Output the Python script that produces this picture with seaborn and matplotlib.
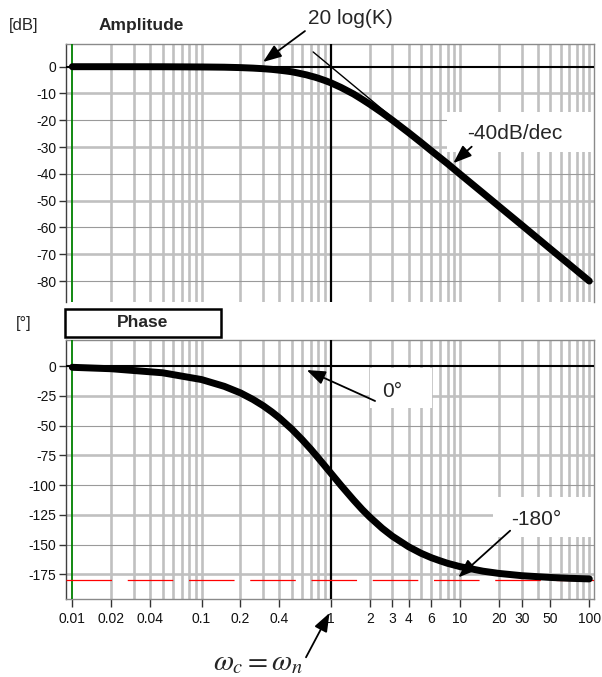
import numpy as np
import pandas as pd
import matplotlib
matplotlib.use("Agg")
import matplotlib.pyplot as plt
import seaborn as sns
from matplotlib.patches import Rectangle

# ---------------- data ----------------
amp_freq = [0.01, 0.02, 0.05, 0.1, 0.15, 0.2, 0.25, 0.3, 0.35, 0.4, 0.45, 0.5, 0.55,
            0.6, 0.65, 0.7, 0.75, 0.8, 0.9, 1.0, 1.2, 1.5, 1.75, 2.0, 2.5, 3.0, 4.0,
            5.0, 6.0, 8.0, 10.0, 15.0, 20.0, 30.0, 50.0, 70.0, 100.0]
amp_db = [0.0, 0.0, -0.02, -0.1, -0.19, -0.34, -0.53, -0.75, -1.0, -1.3, -1.6, -1.9, -2.3,
          -2.7, -3.06, -3.5, -3.88, -4.3, -5.15, -6.0, -7.75, -10.2, -12.2, -14.0, -17.2, -20.0, -24.6,
          -28.3, -31.4, -36.2, -40.1, -47.1, -52.1, -59.1, -68.0, -73.8, -80.0]

phase_freq = [0.01, 0.02, 0.05, 0.1, 0.15, 0.2, 0.25, 0.3, 0.35, 0.4, 0.5, 0.6, 0.7, 0.8,
              1.0, 1.2, 1.5, 1.75, 2.0, 2.5, 3.0, 4.0, 5.0, 6.0, 7.0, 8.0, 10.0, 15.0,
              20.0, 30.0, 50.0, 70.0, 100.0]
phase_deg = [-1.1, -2.3, -5.7, -11.4, -17.1, -22.6, -28.1, -33.4, -38.6, -43.6, -53.1, -61.9, -69.9, -77.3,
             -90.0, -100.4, -112.6, -120.6, -126.9, -136.4, -143.1, -151.9, -157.4, -161.1, -163.7, -165.8, -168.6, -172.4,
             -174.3, -176.2, -177.7, -178.4, -178.9]

asym_freq = [0.73, 100.0]      # -40 dB/dec asymptote
asym_db = [5.5, -80.0]

x_ticks = [0.01, 0.02, 0.04, 0.1, 0.2, 0.4, 1, 2, 3, 4, 6, 10, 20, 30, 50, 100]
x_ticklabels = ["0.01", "0.02", "0.04", "0.1", "0.2", "0.4", "1", "2", "3", "4", "6",
                "10", "20", "30", "50", "100"]
amp_ticks = [0, -10, -20, -30, -40, -50, -60, -70, -80]
phase_ticks = [0, -25, -50, -75, -100, -125, -150, -175]
phase_ref = -180
omega_n = 1.0
f_start = 0.01

# ---------------- style ----------------
sns.set_style("white")
plt.rcParams['font.family'] = ['Liberation Sans', 'DejaVu Sans']
plt.rcParams['axes.unicode_minus'] = False
plt.rcParams['lines.scale_dashes'] = False

W, H = 602, 677
fig = plt.figure(figsize=(W / 100, H / 100), dpi=100)
fig.patch.set_facecolor('white')


def fx(px):
    return px / W


def fy(py):
    return 1 - py / H


ax1 = fig.add_axes([fx(66), fy(301.7), (594 - 66) / W, (301.7 - 44) / H])
ax2 = fig.add_axes([fx(66), fy(599.3), (594 - 66) / W, (599.3 - 340) / H])

XLIM = (0.00894, 108.7)
GRID_C = '#c0c0c0'

amp_df = pd.DataFrame({'freq': amp_freq, 'dB': amp_db})
ph_df = pd.DataFrame({'freq': phase_freq, 'deg': phase_deg})
asym_df = pd.DataFrame({'freq': asym_freq, 'dB': asym_db})

minor_pos = [k * 10.0 ** e for e in range(-2, 2) for k in range(1, 10)] + [100.0]

for ax, yt, ylim in [(ax1, amp_ticks, (-87.7, 8.47)), (ax2, phase_ticks, (-196.05, 21.85))]:
    ax.set_xscale('log')
    ax.set_facecolor('white')
    ax.grid(False)
    # vertical grid lines
    for p in minor_pos:
        if np.isclose(p, f_start) or np.isclose(p, omega_n):
            continue
        ax.axvline(p, color=GRID_C, lw=1.9, zorder=1)
    # horizontal grid lines (alternate thick / thin)
    for i, v in enumerate(yt):
        if v == 0:
            continue
        if i % 2 == 1:
            ax.axhline(v, color=GRID_C, lw=1.9, zorder=1)
        else:
            ax.axhline(v, color='#9a9a9a', lw=0.8, zorder=1)
    ax.axhline(0, color='black', lw=1.5, zorder=3)
    ax.axvline(omega_n, color='black', lw=1.6, zorder=3)
    ax.axvline(f_start, color='#008000', lw=1.3, zorder=3)
    ax.set_yticks(yt)
    ax.set_yticklabels([str(v) for v in yt])
    ax.tick_params(axis='y', direction='out', length=5, width=1, color='#333333',
                   labelsize=10, labelcolor='#111111', pad=2, left=True)
    for s in ['top', 'right', 'bottom']:
        ax.spines[s].set_color('#8a8a8a')
        ax.spines[s].set_linewidth(1.0)
    ax.spines['left'].set_color('#404040')
    ax.spines['left'].set_linewidth(1.0)
    ax.set_ylim(*ylim)

# curves
sns.lineplot(data=asym_df, x='freq', y='dB', ax=ax1, color='black', lw=1.0, zorder=4)
sns.lineplot(data=amp_df, x='freq', y='dB', ax=ax1, color='black', lw=5.0, zorder=5)
sns.lineplot(data=ph_df, x='freq', y='deg', ax=ax2, color='black', lw=5.0, zorder=5)
ax2.axhline(phase_ref, color='red', lw=0.9, dashes=(32.8, 11.3), zorder=3)

for ax in (ax1, ax2):
    ax.set_xlim(*XLIM)
    ax.set_xlabel('')
    ax.set_ylabel('')

ax1.spines['bottom'].set_visible(False)
ax1.set_xticks(x_ticks)
ax1.xaxis.set_minor_locator(matplotlib.ticker.NullLocator())
ax1.tick_params(axis='x', which='both', length=0, labelbottom=False, bottom=False)

ax2.set_xticks(x_ticks)
ax2.set_xticklabels(x_ticklabels)
ax2.xaxis.set_minor_locator(matplotlib.ticker.NullLocator())
ax2.tick_params(axis='x', which='major', direction='out', length=6, width=1, color='#333333',
                labelsize=10, labelcolor='#111111', pad=3, bottom=True)
for ax, yl in [(ax1, (-87.7, 8.47)), (ax2, (-196.05, 21.85))]:
    ax.set_ylim(*yl)

# white label boxes
ax1.add_patch(Rectangle((7.93, -31.8), XLIM[1] - 7.93, 14.9, facecolor='white',
                        edgecolor='none', zorder=2))
ax2.add_patch(Rectangle((2.01, -35.5), 6.04 - 2.01, 33.6, facecolor='white',
                        edgecolor='none', zorder=2))
ax2.add_patch(Rectangle((18.1, -143.4), XLIM[1] - 18.1, 33.6, facecolor='white',
                        edgecolor='none', zorder=2))

arrow = dict(arrowstyle='-|>,head_length=0.8,head_width=0.3', color='black', lw=1.3,
             shrinkA=0, shrinkB=0, mutation_scale=14)

# annotations (amplitude)
ax1.annotate('', xy=(0.299, 1.75), xytext=(0.631, 13.3), arrowprops=arrow,
             annotation_clip=False, zorder=6)
ax1.text(1.42, 17.8, '20 log(K)', fontsize=15, ha='center', va='center', zorder=7, clip_on=False)
ax1.annotate('', xy=(8.87, -36.0), xytext=(12.3, -29.85), arrowprops=arrow, zorder=6)
ax1.text(26.6, -24.9, '-40dB/dec', fontsize=15, ha='center', va='center', zorder=7)

# annotations (phase)
ax2.annotate('', xy=(0.651, -3.4), xytext=(2.20, -29.4), arrowprops=arrow, zorder=6)
ax2.text(2.96, -21.6, '0°', fontsize=15, ha='center', va='center', zorder=7)
ax2.annotate('', xy=(9.69, -177.6), xytext=(24.4, -138.4), arrowprops=arrow, zorder=6)
ax2.text(39.2, -129.4, '-180°', fontsize=15, ha='center', va='center', zorder=7)

# omega annotation below the axis
ax2.annotate('', xy=(fx(329.5), fy(613)), xytext=(fx(306), fy(657.3)),
             xycoords='figure fraction', textcoords='figure fraction',
             arrowprops=arrow, annotation_clip=False, zorder=6)
fig.text(fx(213), fy(670), r'$\omega_c = \omega_n$', fontsize=21, math_fontfamily='stix',
         ha='left', va='baseline')

# panel titles
fig.text(fx(23.3), fy(25.7), '[dB]', fontsize=12, ha='center', va='center')
fig.text(fx(141), fy(25.7), 'Amplitude', fontsize=12.5, fontweight='bold', ha='center', va='center')
fig.text(fx(24), fy(323), '[°]', fontsize=12, ha='center', va='center')
fig.add_artist(Rectangle((fx(64.7), fy(336.7)), (221 - 64.7) / W, (336.7 - 309) / H,
                         transform=fig.transFigure, facecolor='white', edgecolor='black',
                         lw=1.8))
fig.text(fx(142.5), fy(322.5), 'Phase', fontsize=12.5, fontweight='bold', ha='center', va='center')

fig.savefig('out.png', dpi=100, facecolor='white')
